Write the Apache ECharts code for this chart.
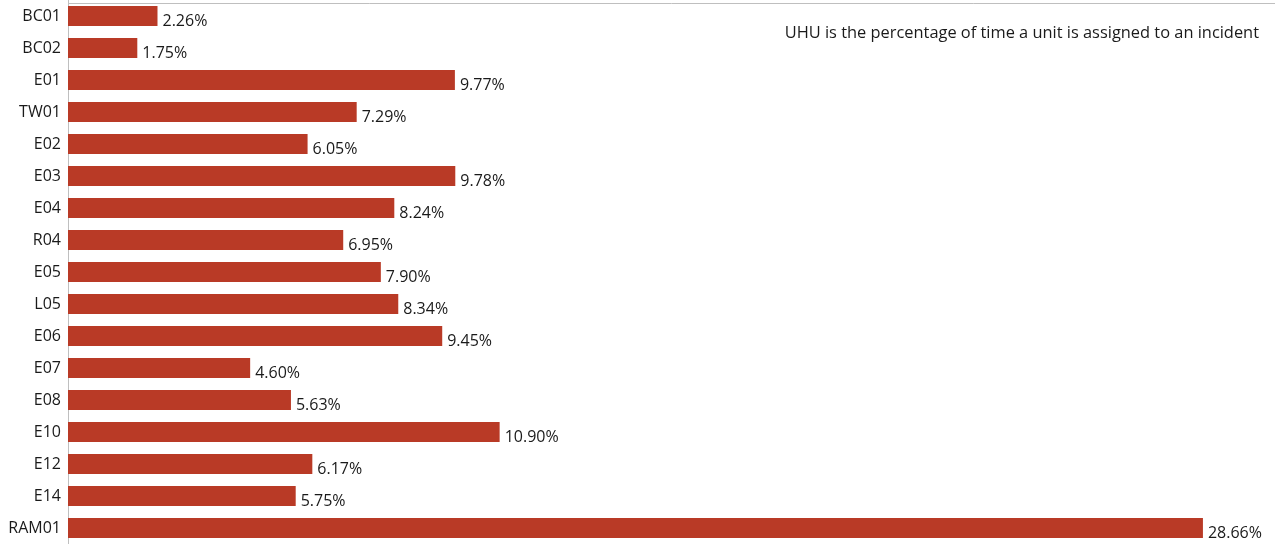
<!DOCTYPE html>
<html>
<head>
<meta charset="utf-8">
<script src="https://cdn.jsdelivr.net/npm/echarts@6/dist/echarts.min.js"></script>
<style>
  html, body { margin: 0; padding: 0; background: #fff; }
  #chart { width: 1275px; height: 544px; }
</style>
</head>
<body>
<div id="chart"></div>
<script>
// Unit hour utilization per apparatus
const units = ['BC01', 'BC02', 'E01', 'TW01', 'E02', 'E03', 'E04', 'R04', 'E05', 'L05', 'E06', 'E07', 'E08', 'E10', 'E12', 'E14', 'RAM01'];
const uhuPercent = [2.26, 1.75, 9.77, 7.29, 6.05, 9.78, 8.24, 6.95, 7.90, 8.34, 9.45, 4.60, 5.63, 10.90, 6.17, 5.75, 28.66];
const note = 'UHU is the percentage of time a unit is assigned to an incident';

const FONT = '"Open Sans", "Noto Sans", sans-serif';
const chart = echarts.init(document.getElementById('chart'));

chart.setOption({
  animation: false,
  grid: { left: 68, right: 19, top: 0, bottom: 0, containLabel: false },
  xAxis: {
    type: 'value',
    min: 0,
    max: 30,
    show: false
  },
  yAxis: {
    type: 'category',
    data: units,
    inverse: true,
    axisLine: { show: true, lineStyle: { color: '#BFBFBF', width: 1 } },
    axisTick: { show: false },
    axisLabel: { color: '#1a1a1a', fontFamily: FONT, fontSize: 16, margin: 7 }
  },
  series: [{
    type: 'bar',
    data: uhuPercent,
    barWidth: 20,
    itemStyle: { color: '#B93A26' },
    label: {
      show: true,
      position: 'right',
      distance: 5,
      offset: [0, 5],
      color: '#1a1a1a',
      fontFamily: FONT,
      fontSize: 16,
      formatter: p => p.value.toFixed(2) + '%'
    }
  }],
  graphic: [
    {
      type: 'line',
      shape: { x1: 68, y1: 3.5, x2: 1275, y2: 3.5 },
      style: { stroke: '#BFBFBF', lineWidth: 1 },
      silent: true
    },
    {
      type: 'text',
      right: 16,
      top: 25,
      style: { text: note, fill: '#1a1a1a', font: '16.4px ' + FONT }
    }
  ]
});
</script>
</body>
</html>
